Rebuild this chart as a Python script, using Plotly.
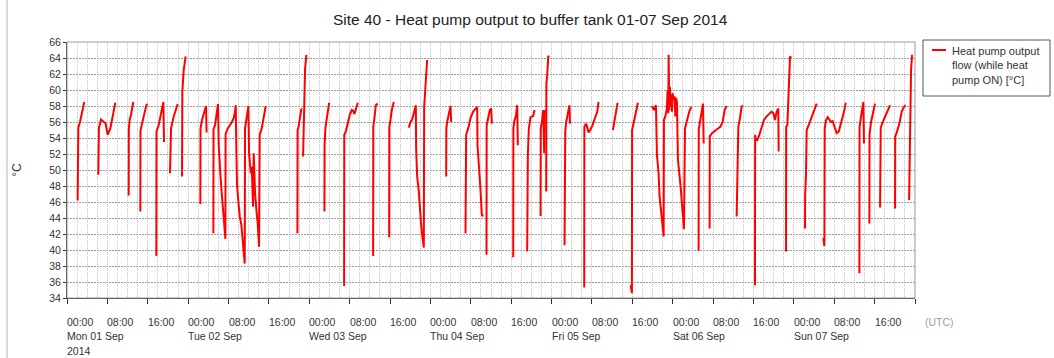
import pandas as pd
import plotly.graph_objects as go

# Heat pump flow temperature (°C) while the pump is running.
# Hours are counted from 00:00 UTC of the day the run starts; None splits runs.
mon_hours = [2.11, 2.13, 2.24, 2.57, 2.90, 3.43, None,
             6.20, 6.32, 6.73, 7.26, 7.66, 8.05, 8.58, 9.05, 9.57, None,
             12.22, 12.25, 12.41, 12.68, 13.14, None,
             14.53, 14.56, 14.86, 15.32, 15.72, 15.98, None,
             17.70, 17.73, 18.16, 18.63, 19.09, 19.22, None,
             20.41, 20.45, 20.61, 21.14, 21.60, 21.93, None,
             22.79, 22.85, 23.12, 23.38, 23.51]
mon_temps = [46.2, 51.9, 55.3, 56.0, 57.0, 58.5, None,
             49.4, 55.2, 56.3, 56.0, 55.8, 54.4, 55.2, 56.7, 58.4, None,
             46.8, 55.1, 56.25, 56.9, 58.5, None,
             44.8, 54.9, 55.8, 56.9, 58.1, 58.25, None,
             39.25, 54.8, 55.6, 57.0, 58.5, 53.5, None,
             49.6, 52.0, 55.2, 56.7, 57.7, 58.25, None,
             49.2, 59.8, 62.5, 64.2, 64.2]

tue_hours = [2.42, 2.45, 2.75, 3.22, 3.55, 3.65, None,
             5.00, 5.03, 5.33, 5.66, 5.92, 6.06, 6.19, 6.39, 6.65, 6.98, 7.18, 7.31,
             7.38, 7.42, 7.84, 8.50, 9.03, 9.29, 9.43,
             9.56, 9.69, 9.96, 10.22, 10.55, 10.75, 10.95, 11.21,
             11.27, 11.54, 11.94,
             12.07, 12.40, 12.60, 12.73, 12.86, 12.99, 13.13, 13.26, 13.52, 13.79, 14.05,
             14.18, 14.58, 15.05, 15.37, None,
             21.65, 21.68, 21.85, 22.18, 22.44, None,
             22.77, 22.97, 23.17, 23.43]
tue_temps = [45.75, 55.2, 56.25, 57.5, 58.0, 54.7, None,
             42.1, 55.1, 55.6, 57.0, 58.25, 53.1, 51.0, 49.4, 47.1, 44.4, 42.9, 41.5,
             41.4, 54.5, 55.2, 55.8, 56.5, 57.3, 58.1,
             52.1, 48.1, 46.0, 44.2, 43.1, 41.7, 39.6, 38.3,
             55.2, 56.25, 58.0,
             52.1, 49.6, 50.4, 47.9, 45.4, 52.1, 48.75, 47.1, 45.0, 43.3, 40.4,
             54.4, 55.2, 56.9, 58.0, None,
             42.1, 55.0, 55.3, 56.75, 57.7, None,
             51.7, 60.0, 62.7, 64.4]

wed_hours = [3.00, 3.03, 3.20, 3.53, 3.93, None,
             6.90, 6.93, 7.23, 7.56, 8.02, 8.42, 8.68, 8.95, 9.21, 9.61, None,
             12.65, 12.68, 12.91, 13.18, 13.57, None,
             15.82, 15.85, 16.08, 16.35, 16.74, None,
             19.72, 20.05, 20.38, 20.71, 21.11, 21.17, 21.37, 21.70, 21.90, 22.16,
             22.36, 22.69, 22.76, 23.02, 23.22, 23.35]
wed_temps = [44.8, 53.1, 55.3, 56.9, 58.4, None,
             35.5, 54.4, 54.8, 55.8, 56.9, 57.5, 57.4, 57.0, 57.7, 58.4, None,
             39.25, 55.4, 56.5, 58.1, 58.3, None,
             41.6, 55.3, 56.25, 57.5, 58.5, None,
             55.3, 56.0, 56.3, 57.3, 58.1, 52.7, 49.2, 47.3, 44.6, 43.1,
             41.9, 40.3, 57.9, 60.0, 62.7, 63.75]

thu_hours = [3.12, 3.15, 3.32, 3.65, 3.98, 4.11, None,
             6.95, 6.98, 7.08, 7.48, 7.94, 8.47, 8.93, 9.26, 9.33, 9.59, 9.79, 9.92,
             10.05, 10.19, 10.45, None,
             11.11, 11.14, 11.44, 11.77, 12.04, 12.17, None,
             16.40, 16.43, 16.66, 16.93, 17.19, 17.32, None,
             19.17, 19.20, 19.30, 19.50, 19.83, 20.36, 20.63, None,
             21.82, 21.85, 22.15, 22.35, 22.54, 22.68, None,
             22.94, 22.97, 23.14, 23.34, 23.60]
thu_temps = [49.2, 55.2, 56.0, 57.1, 58.0, 56.0, None,
             42.1, 51.9, 54.4, 55.2, 56.5, 57.3, 57.7, 57.9, 53.1, 51.0, 49.2, 47.5,
             46.0, 44.4, 44.2, None,
             39.4, 55.6, 56.5, 57.5, 57.7, 55.8, None,
             39.1, 55.2, 56.25, 56.7, 58.1, 53.1, None,
             39.8, 44.6, 51.9, 55.2, 56.6, 56.75, 57.5, None,
             44.25, 55.2, 56.25, 57.5, 52.1, 57.5, None,
             47.3, 60.8, 61.9, 64.2, 64.2]

fri_hours = [2.57, 2.60, 2.71, 2.90, 3.23, 3.55, 3.65, None,
             6.47, 6.50, 6.80, 7.00, 7.33, 7.66, 8.12, 8.65, 9.05, 9.31, None,
             12.15, 12.61, 13.08, None,
             15.66, 15.92, 15.95, 16.32, 16.71, 17.11, None,
             19.88, 20.28, 20.68, 20.87, 21.20, 21.40, 21.67, 21.86, 22.20,
             22.26, 22.53, 22.73,
             22.86, 22.99, 23.12, 23.19, 23.32, 23.45, 23.58, 23.72, 23.85, 23.98,
             24.18, 24.38, 24.51, 24.64, 24.84,
             25.04, 25.37, 25.57, 25.83, 26.10, 26.23,
             26.43, 26.82, 27.28, 27.68]
fri_temps = [40.6, 48.5, 54.8, 56.0, 57.3, 58.1, 55.8, None,
             35.3, 55.4, 55.8, 55.5, 54.7, 55.0, 55.6, 56.5, 57.3, 58.5, None,
             55.0, 56.9, 58.4, None,
             35.6, 34.6, 55.0, 56.0, 57.3, 58.4, None,
             58.0, 57.5, 58.1, 51.9, 49.6, 46.7, 45.0, 43.75, 41.7,
             56.25, 56.7, 57.3,
             57.9, 60.0, 57.1, 64.4, 57.5, 60.4, 57.9, 59.4, 57.3, 59.6,
             58.75, 59.2, 56.7, 59.0, 58.5,
             51.3, 49.6, 47.9, 45.8, 44.2, 42.6,
             55.2, 56.25, 57.3, 57.9]

sat_hours = [5.13, 5.16, 5.47, 5.80, 6.00, 6.13, None,
             7.31, 7.34, 7.78, 8.31, 8.77, 9.43, 9.89, 10.29, 10.68, None,
             12.67, 12.80, 13.00, 13.33, 13.66, 13.86, None,
             16.30, 16.33, 16.50, 16.77, 17.16, 17.62, 18.08, 18.61, 19.14, 19.60,
             19.95, 20.26, 20.60, 20.92, 20.99, None,
             22.45, 22.48, 22.71, 22.91, 23.11, 23.24, 23.44]
sat_temps = [39.9, 55.1, 56.25, 57.5, 58.3, 53.3, None,
             42.7, 54.2, 54.6, 54.9, 55.1, 55.4, 56.0, 57.5, 58.0, None,
             44.2, 47.3, 55.4, 56.5, 57.9, 58.1, None,
             35.6, 54.4, 53.75, 53.75, 54.4, 55.2, 56.25, 56.7, 57.0, 57.3,
             57.1, 56.25, 57.3, 57.7, 52.3, None,
             39.8, 55.4, 55.6, 60.0, 61.6, 64.2, 64.0]

sun_hours = [2.21, 2.24, 2.41, 2.54, 2.87, 3.33, 3.73, 4.19, 4.52, None,
             5.85, 6.05, 6.11, 6.37, 6.70, 7.03, 7.36, 7.69, 8.03, 8.49, 8.89, 9.28,
             9.68, 10.01, 10.27, None,
             12.98, 13.01, 13.31, 13.64, 13.77, 13.90, None,
             14.96, 14.99, 15.29, 15.75, 16.08, None,
             17.08, 17.10, 17.21, 17.61, 18.07, 18.53, 19.06, None,
             20.05, 20.08, 20.38, 20.91, 21.37, 21.83, 22.16, None,
             22.83, 22.86, 23.02, 23.22, 23.42]
sun_temps = [42.7, 46.7, 49.6, 55.0, 55.5, 56.25, 56.9, 57.9, 58.3, None,
             41.5, 40.5, 55.2, 56.25, 56.6, 56.25, 56.0, 56.1, 55.4, 54.6, 54.8, 55.6,
             56.7, 57.5, 58.4, None,
             37.1, 55.3, 56.7, 58.3, 58.5, 53.3, None,
             43.3, 54.4, 56.0, 57.5, 58.3, None,
             45.3, 48.5, 55.3, 56.0, 56.7, 57.5, 58.1, None,
             45.2, 54.2, 54.7, 55.8, 57.3, 57.9, 58.1, None,
             46.25, 47.5, 59.6, 62.5, 64.4]

days = ["2014-09-01", "2014-09-02", "2014-09-03", "2014-09-04",
        "2014-09-05", "2014-09-06", "2014-09-07"]
day_hours = [mon_hours, tue_hours, wed_hours, thu_hours, fri_hours, sat_hours, sun_hours]
day_temps = [mon_temps, tue_temps, wed_temps, thu_temps, fri_temps, sat_temps, sun_temps]

# Axis and legend labels
chart_title = "Site 40 - Heat pump output to buffer tank 01-07 Sep 2014"
time_labels = ["00:00", "08:00", "16:00"]
day_labels = ["Mon 01 Sep", "Tue 02 Sep", "Wed 03 Sep", "Thu 04 Sep",
              "Fri 05 Sep", "Sat 06 Sep", "Sun 07 Sep"]
year_label = "2014"
zone_label = "(UTC)"
series_label = "Heat pump output<br>flow (while heat<br>pump ON) [°C]"

FONT = "Liberation Sans, Arial, sans-serif"
TEXT = "#333333"
LINE_RED = "#ff0000"

# Plot area in pixels, used to place the key box beside it
PLOT_L, PLOT_R, PLOT_T, PLOT_B = 67, 915, 42, 298


def px_x(px):
    return (px - PLOT_L) / (PLOT_R - PLOT_L)


def px_y(py):
    return (PLOT_B - py) / (PLOT_B - PLOT_T)


x_vals, y_vals = [], []
for day, hrs, tmps in zip(days, day_hours, day_temps):
    start = pd.Timestamp(day)
    for h, t in zip(hrs, tmps):
        if h is None:
            x_vals.append(None)
            y_vals.append(None)
        else:
            x_vals.append(start + pd.Timedelta(hours=h))
            y_vals.append(t)
    x_vals.append(None)
    y_vals.append(None)

fig = go.Figure()
fig.add_trace(go.Scatter(
    x=x_vals, y=y_vals, mode="lines", connectgaps=False,
    line=dict(color=LINE_RED, width=2),
    name=series_label, showlegend=False,
))

# Date labels, left-aligned under each tick mark
row_y = [-0.092, -0.148, -0.207]
label_font = dict(family=FONT, size=10.5, color=TEXT)
annotations = []
for d, day in enumerate(days):
    start = pd.Timestamp(day)
    for k, lab in enumerate(time_labels):
        annotations.append(dict(
            x=start + pd.Timedelta(hours=8 * k), y=row_y[0], xref="x", yref="paper",
            text=lab, showarrow=False, xanchor="left", yanchor="middle",
            font=label_font, xshift=-2))
    annotations.append(dict(
        x=start, y=row_y[1], xref="x", yref="paper", text=day_labels[d],
        showarrow=False, xanchor="left", yanchor="middle",
        font=label_font, xshift=-2))
annotations.append(dict(
    x=pd.Timestamp(days[0]), y=row_y[2], xref="x", yref="paper", text=year_label,
    showarrow=False, xanchor="left", yanchor="middle", font=label_font, xshift=-2))
annotations.append(dict(
    x=px_x(925), y=row_y[0], xref="paper", yref="paper", text=zone_label,
    showarrow=False, xanchor="left", yanchor="middle",
    font=dict(family=FONT, size=10.5, color="#9a9a9a"), xshift=-2))

# Key box for the series
annotations.append(dict(
    x=px_x(952), y=px_y(42.5), xref="paper", yref="paper", text=series_label,
    showarrow=False, xanchor="left", yanchor="top", align="left",
    font=dict(family=FONT, size=11, color=TEXT), xshift=-2))
shapes = [
    # plot frame
    dict(type="rect", xref="paper", yref="paper", x0=0, y0=0, x1=1, y1=1,
         line=dict(color="#9a9a9a", width=1), layer="above"),
    # panel edge on the left
    dict(type="line", xref="paper", yref="paper",
         x0=px_x(7), x1=px_x(7), y0=px_y(358), y1=px_y(0),
         line=dict(color="#b4b4b4", width=1)),
    # key box and its line sample
    dict(type="rect", xref="paper", yref="paper",
         x0=px_x(923), x1=px_x(1050), y0=px_y(96), y1=px_y(40),
         line=dict(color="#555555", width=1), fillcolor="white"),
    dict(type="line", xref="paper", yref="paper",
         x0=px_x(932), x1=px_x(946), y0=px_y(50), y1=px_y(50),
         line=dict(color=LINE_RED, width=2)),
]

HOUR_MS = 3600 * 1000

fig.update_layout(
    width=1054, height=358, autosize=False,
    margin=dict(l=PLOT_L, r=1054 - PLOT_R, t=PLOT_T, b=358 - PLOT_B),
    paper_bgcolor="white", plot_bgcolor="white",
    font=dict(family=FONT, size=10.5, color=TEXT),
    title=dict(text=chart_title,
               x=0.503, xref="container", xanchor="center",
               y=1 - 20 / 358, yref="container", yanchor="middle",
               font=dict(family=FONT, size=15.5, color="#222222")),
    showlegend=False,
    annotations=annotations,
    shapes=shapes,
)

fig.update_xaxes(
    type="date", range=["2014-09-01 00:00", "2014-09-08 00:00"],
    tickmode="linear", tick0="2014-09-01", dtick=8 * HOUR_MS,
    ticks="outside", ticklen=5, tickcolor="#333333", showticklabels=False,
    showgrid=True, gridcolor="#c4c4c4", griddash="1px,1px", gridwidth=1,
    minor=dict(tick0="2014-09-01", dtick=2 * HOUR_MS, showgrid=True,
               gridcolor="#c4c4c4", griddash="1px,1px", ticks=""),
    showline=True, linecolor="#333333", linewidth=1, zeroline=False,
)
fig.update_yaxes(
    range=[34, 66], tickmode="linear", tick0=34, dtick=2,
    ticks="outside", ticklen=3, tickcolor="#333333",
    tickfont=dict(family=FONT, size=10.5, color=TEXT),
    showgrid=True, gridcolor="#9a9a9a", griddash="2px,1px", gridwidth=1,
    showline=True, linecolor="#333333", linewidth=1, zeroline=False,
    title=dict(text="°C", standoff=25, font=dict(family=FONT, size=12, color=TEXT)),
)

fig.write_html("out.html")
